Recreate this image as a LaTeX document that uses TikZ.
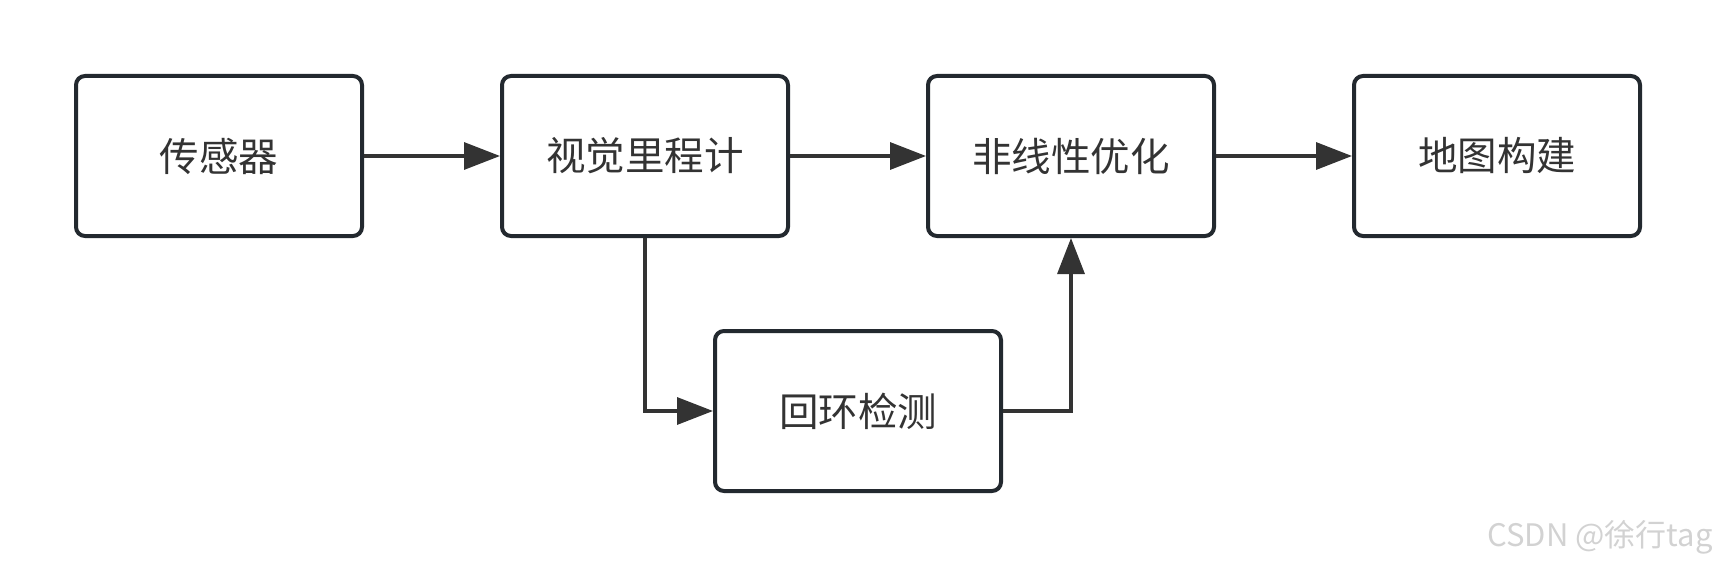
\documentclass[tikz,border=0pt]{standalone}
\usepackage{fontspec}
\newfontfamily\cjk{Noto Sans CJK SC}
\usetikzlibrary{arrows.meta}
\definecolor{boxline}{HTML}{23292F}
\definecolor{conn}{HTML}{333333}
\definecolor{txt}{HTML}{333333}
\definecolor{wm}{HTML}{D2D2D2}
\tikzset{
  stepbox/.style={draw=boxline, line width=4pt, rounded corners=9pt, fill=white,
    minimum width=286pt, minimum height=160pt, inner sep=0pt,
    text=txt, font=\cjk\fontsize{39.5pt}{45pt}\selectfont},
  flow/.style={draw=conn, line width=3.3pt,
    -{Triangle[length=36pt,width=27pt]}},
}
\begin{document}
\begin{tikzpicture}[x=1pt,y=-1pt]
\useasboundingbox (0,0) rectangle (1716,567);
\node[stepbox] (b1) at (219,156) {传感器};
\node[stepbox] (b2) at (645,156) {视觉里程计};
\node[stepbox] (b3) at (1071,156) {非线性优化};
\node[stepbox] (b4) at (1497,156) {地图构建};
\node[stepbox] (b5) at (858,411) {回环检测};
\draw[flow] (b1.east) -- (b2.west);
\draw[flow] (b2.east) -- (b3.west);
\draw[flow] (b3.east) -- (b4.west);
\draw[flow] (b2.south) |- (b5.west);
\draw[flow] (b5.east) -| (b3.south);
\node[anchor=east, text=wm, font=\cjk\fontsize{31pt}{34pt}\selectfont, inner sep=0pt] (wm) at (1713,537) {CSDN @徐行tag};
\end{tikzpicture}
\end{document}
